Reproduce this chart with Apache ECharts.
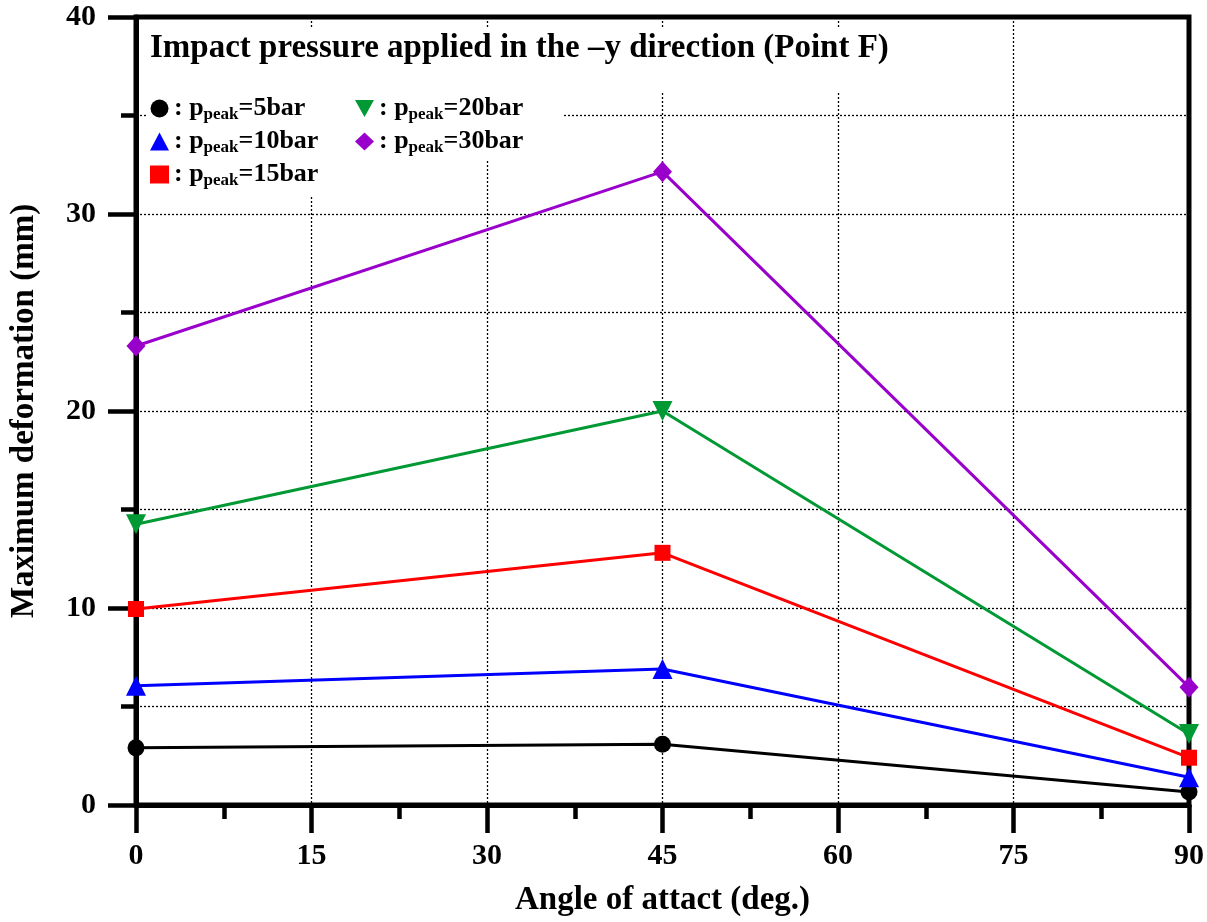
<!DOCTYPE html>
<html>
<head>
<meta charset="utf-8">
<script src="https://cdn.jsdelivr.net/npm/echarts@6/dist/echarts.min.js"></script>
<style>html,body{margin:0;padding:0;background:#fff;overflow:hidden}#c{width:1207px;height:922px}</style>
</head>
<body>
<div id="c"></div>
<script>
const angles = [0, 45, 90];
const p5  = [2.9, 3.08, 0.66];
const p10 = [6.05, 6.9, 1.41];
const p15 = [9.95, 12.8, 2.4];
const p20 = [14.25, 20.0, 3.6];
const p30 = [23.3, 32.15, 5.98];
const seriesNames = ['5bar', '10bar', '15bar', '20bar', '30bar'];
const xTicks = [0, 15, 30, 45, 60, 75, 90];

const FONT = 'Liberation Serif';
const colors = ['#000000', '#0000ff', '#ff0000', '#009933', '#9900cc'];
const invTri = 'path://M0,0 L10,0 L5,9 Z';
const symbols = ['circle', 'triangle', 'rect', invTri, 'diamond'];
const sizes = [17, 20, 16, 20, [19, 21]];
const values = [p5, p10, p15, p20, p30];

const chart = echarts.init(document.getElementById('c'), null, {renderer: 'canvas', width: 1207, height: 922});

const series = values.map((v, i) => ({
  name: seriesNames[i],
  type: 'line',
  data: angles.map((a, j) => [a, v[j]]),
  symbol: symbols[i],
  symbolSize: sizes[i],
  showAllSymbol: true,
  lineStyle: {color: colors[i], width: 3},
  itemStyle: {color: colors[i]},
  z: 5
}));

const richLegend = {
  t: {fontFamily: FONT, fontWeight: 'bold', fontSize: 26, color: '#000', lineHeight: 30},
  s: {fontFamily: FONT, fontWeight: 'bold', fontSize: 17, color: '#000', lineHeight: 30, padding: [12, 0, 0, 0]}
};
const fmt = name => '{t|: p}{s|peak}{t|=' + name + '}';

function legendData(idx) {
  return idx.map(i => ({name: seriesNames[i], icon: symbols[i], itemStyle: {color: colors[i]}}));
}

const axisFont = {fontFamily: FONT, fontWeight: 'bold', fontSize: 30, color: '#000'};
const nameFont = {fontFamily: FONT, fontWeight: 'bold', fontSize: 33, color: '#000'};

chart.setOption({
  animation: false,
  backgroundColor: '#fff',
  title: {
    text: 'Impact pressure applied in the \u2013y direction (Point F)',
    left: 146, top: 28,
    padding: [4, 4, 28, 4],
    backgroundColor: '#fff',
    textStyle: {fontFamily: FONT, fontWeight: 'bold', fontSize: 33, color: '#000'}
  },
  legend: [
    {
      data: legendData([0, 1, 2]),
      orient: 'vertical', left: 146, top: 90,
      itemWidth: 19, itemHeight: 18, itemGap: 4,
      backgroundColor: '#fff', padding: [4, 40, 6, 4],
      formatter: fmt,
      textStyle: {rich: richLegend}
    },
    {
      data: legendData([3, 4]),
      orient: 'vertical', left: 351, top: 90,
      itemWidth: 19, itemHeight: 18, itemGap: 4,
      backgroundColor: '#fff', padding: [4, 40, 4, 4],
      formatter: fmt,
      textStyle: {rich: richLegend}
    }
  ],
  grid: {
    left: 133, right: 17, top: 17, bottom: 113,
    show: true, borderColor: '#000', borderWidth: 5, containLabel: false
  },
  xAxis: {
    type: 'value', min: 0, max: 90, interval: 15,
    name: 'Angle of attact (deg.)', nameLocation: 'middle', nameGap: 79,
    nameTextStyle: nameFont,
    axisLine: {show: true, onZero: false, lineStyle: {color: '#000', width: 5}},
    axisTick: {show: true, length: 28, lineStyle: {color: '#000', width: 4.5}},
    minorTick: {show: true, splitNumber: 2, length: 14, lineStyle: {color: '#000', width: 4.5}},
    axisLabel: Object.assign({margin: 36, formatter: v => xTicks.includes(v) ? String(v) : ''}, axisFont),
    splitLine: {show: true, lineStyle: {color: '#000', type: [2, 2], width: 1.3}},
    minorSplitLine: {show: false}
  },
  yAxis: {
    type: 'value', min: 0, max: 40, interval: 10,
    name: 'Maximum deformation (mm)', nameLocation: 'middle', nameGap: 95, nameRotate: 90,
    nameTextStyle: nameFont,
    axisLine: {show: true, onZero: false, lineStyle: {color: '#000', width: 5}},
    axisTick: {show: true, length: 28, lineStyle: {color: '#000', width: 4.5}},
    minorTick: {show: true, splitNumber: 2, length: 15, lineStyle: {color: '#000', width: 4.5}},
    axisLabel: Object.assign({margin: 40}, axisFont),
    splitLine: {show: true, lineStyle: {color: '#000', type: [2, 2], width: 1.3}},
    minorSplitLine: {show: true, lineStyle: {color: '#000', type: [2, 2], width: 1.3}}
  },
  series: series
});
</script>
</body>
</html>
